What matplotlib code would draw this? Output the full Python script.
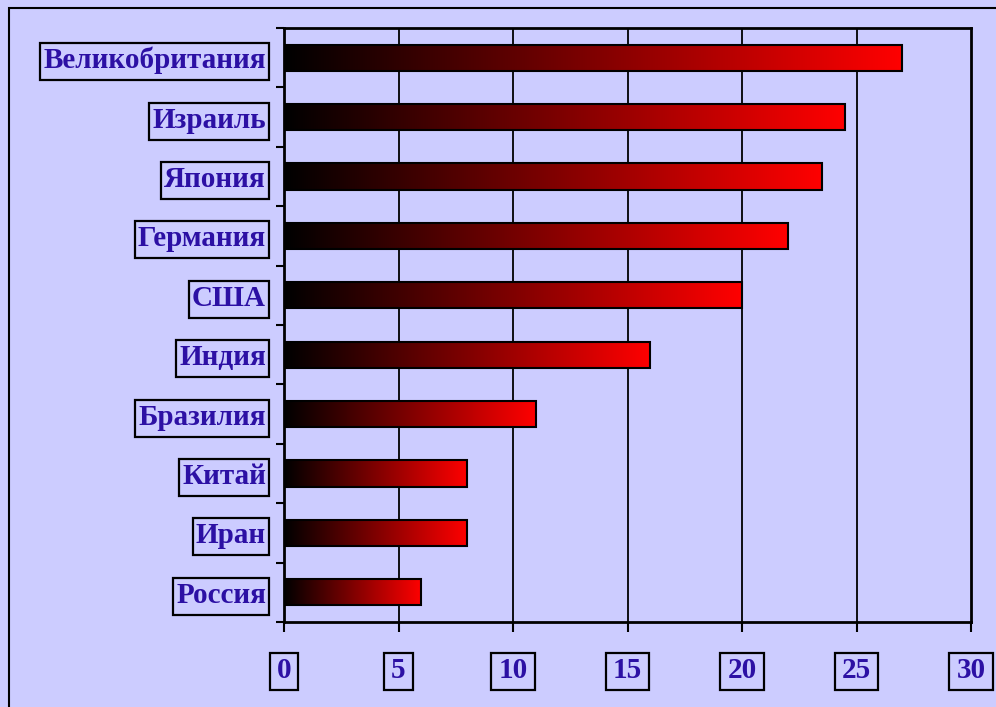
import numpy as np
import matplotlib
matplotlib.use("Agg")
import matplotlib.pyplot as plt
from matplotlib.patches import Rectangle
from matplotlib.colors import LinearSegmentedColormap

countries = ["Россия", "Иран", "Китай", "Бразилия", "Индия", "США",
             "Германия", "Япония", "Израиль", "Великобритания"]
values = [6, 8, 8, 11, 16, 20, 22, 23.5, 24.5, 27]
xticks = [0, 5, 10, 15, 20, 25, 30]

BG = "#CCCCFF"
TXT = "#2C10A4"
FONT = ["Liberation Serif", "DejaVu Serif"]
W, H = 996, 707

fig = plt.figure(figsize=(W / 100, H / 100), dpi=100, facecolor=BG)
# outer frame
fig.patches.append(Rectangle((9 / W, -0.1), 1.2, 1 - 8 / H + 0.1,
                             transform=fig.transFigure, fill=False,
                             edgecolor="black", linewidth=1.5, zorder=0))

ax = fig.add_axes([284 / W, 1 - 622 / H, (971 - 284) / W, (622 - 28) / H])
ax.set_facecolor(BG)

cmap = LinearSegmentedColormap.from_list("br", ["#000000", "#FF0000"])
grad = np.linspace(0, 1, 256).reshape(1, -1)
h = 0.44
ypos = np.arange(len(countries))
for y, v in zip(ypos, values):
    ax.imshow(grad, cmap=cmap, aspect="auto", extent=[0, v, y - h / 2, y + h / 2],
              zorder=3, interpolation="bilinear")
ax.barh(ypos, values, height=h, facecolor="none", edgecolor="black",
        linewidth=1.5, zorder=4)
ax.set_xlim(0, 30)
ax.set_ylim(-0.5, len(countries) - 0.5)

for x in xticks[1:-1]:
    ax.axvline(x, color="black", linewidth=1.3, zorder=1)

for s in ax.spines.values():
    s.set_linewidth(2)
    s.set_color("black")

ax.set_xticks(xticks)
ax.set_xticklabels([str(t) for t in xticks])
ax.tick_params(axis="x", direction="out", length=7, width=1.5, pad=18)

ax.set_yticks(ypos)
ax.set_yticklabels(countries)
ax.set_yticks(np.arange(-0.5, len(countries)), minor=True)
ax.tick_params(axis="y", which="major", length=0, pad=13)
ax.tick_params(axis="y", which="minor", direction="out", length=6, width=1.5)

for lab in ax.get_xticklabels() + ax.get_yticklabels():
    lab.set_fontfamily(FONT)
    lab.set_fontweight("bold")
    lab.set_fontsize(21)
    lab.set_color(TXT)

# boxes around tick labels, sized from the rendered text
fig.canvas.draw()
r = fig.canvas.get_renderer()

def add_box(lab, padx, pady, dy=0):
    bb = lab.get_window_extent(r)
    x0, y0 = bb.x0 - padx, bb.y0 - pady + dy
    fig.patches.append(Rectangle((x0 / W, y0 / H), (bb.width + 2 * padx) / W,
                                 (bb.height + 2 * pady) / H,
                                 transform=fig.transFigure, fill=False,
                                 edgecolor="black", linewidth=1.6, zorder=5))

for lab in ax.get_yticklabels():
    add_box(lab, 3, 5, -1)
for lab in ax.get_xticklabels():
    add_box(lab, 7, 5, -1)

fig.savefig("out.png", dpi=100, facecolor=BG)
